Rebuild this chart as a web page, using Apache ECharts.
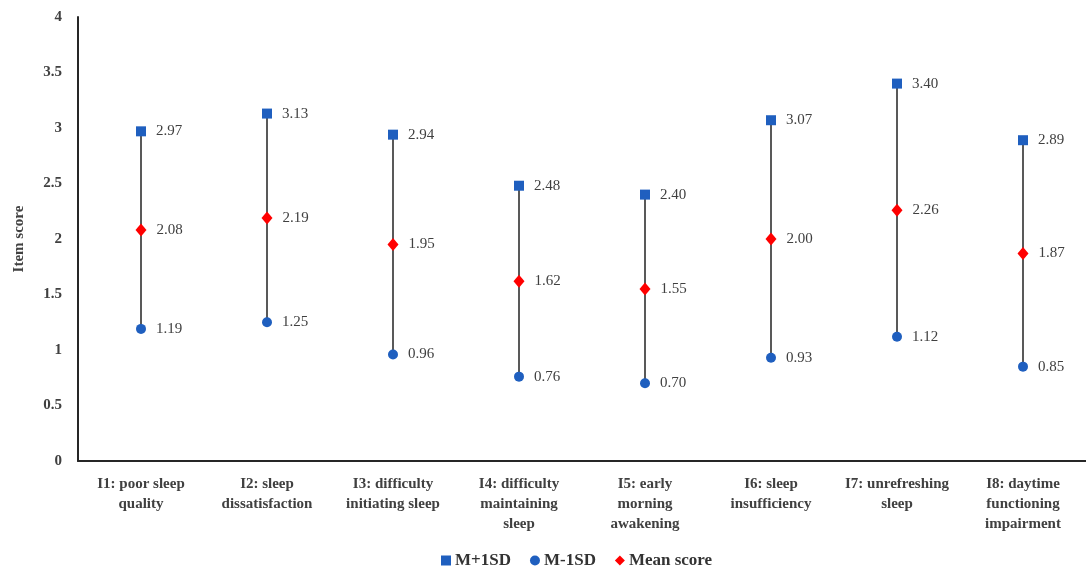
<!DOCTYPE html>
<html><head><meta charset="utf-8">
<script src="https://cdn.jsdelivr.net/npm/echarts@6/dist/echarts.min.js"></script>
<style>html,body{margin:0;padding:0;background:#fff}#c{width:1086px;height:568px}</style>
</head><body><div id="c"></div>
<script>
const categories = ["I1: poor sleep\nquality","I2: sleep\ndissatisfaction","I3: difficulty\ninitiating sleep","I4: difficulty\nmaintaining\nsleep","I5: early\nmorning\nawakening","I6: sleep\ninsufficiency","I7: unrefreshing\nsleep","I8: daytime\nfunctioning\nimpairment"];
const upper = [2.97,3.13,2.94,2.48,2.40,3.07,3.40,2.89];
const lower = [1.19,1.25,0.96,0.76,0.70,0.93,1.12,0.85];
const mean = [2.08,2.19,1.95,1.62,1.55,2.00,2.26,1.87];
const yTicks = [0,0.5,1,1.5,2,2.5,3,3.5,4];

const font = "'Liberation Serif','Times New Roman',serif";
const chart = echarts.init(document.getElementById('c'));
const lbl = {show:true, position:'right', distance:10, fontFamily:font, fontSize:15, color:'#404040', formatter:p=>p.value.toFixed(2)};
chart.setOption({
  animation:false,
  textStyle:{fontFamily:font},
  grid:{left:78, right:-10, top:17, bottom:107, containLabel:false},
  legend:{top:547, left:436, itemGap:19, itemWidth:10, itemHeight:10,
    textStyle:{fontFamily:font, fontSize:17, fontWeight:'bold', color:'#333333', padding:[0,0,0,-1]},
    data:['M+1SD','M-1SD','Mean score']},
  xAxis:{type:'category', data:categories,
    axisLine:{lineStyle:{color:'#262626', width:2}}, axisTick:{show:false},
    axisLabel:{interval:0, fontFamily:font, fontSize:15, fontWeight:'bold', color:'#404040', lineHeight:20, margin:13}},
  yAxis:{type:'value', min:0, max:4, interval:0.5, name:'Item score', nameLocation:'middle', nameGap:51,
    nameTextStyle:{fontFamily:font, fontSize:15, fontWeight:'bold', color:'#404040'},
    axisLine:{show:true, lineStyle:{color:'#262626', width:2}}, axisTick:{show:false}, splitLine:{show:false},
    axisLabel:{fontFamily:font, fontSize:15, fontWeight:'bold', color:'#404040', margin:16,
      formatter:v=>yTicks.includes(v)?String(v):''}},
  series:[
    {type:'custom', name:'range', silent:true, z:1,
      renderItem:(params, api)=>{
        const i = api.value(0);
        const a = api.coord([i, api.value(1)]);
        const b = api.coord([i, api.value(2)]);
        return {type:'line', shape:{x1:a[0],y1:a[1],x2:b[0],y2:b[1]}, style:{stroke:'#595959', lineWidth:2}};
      },
      encode:{x:0, y:[1,2]},
      data:categories.map((c,i)=>[i, lower[i], upper[i]])},
    {type:'scatter', name:'M+1SD', symbol:'rect', symbolSize:10, itemStyle:{color:'#1F5FBF', opacity:1}, data:upper, label:lbl, z:3},
    {type:'scatter', name:'M-1SD', symbol:'circle', symbolSize:10, itemStyle:{color:'#1F5FBF', opacity:1}, data:lower, label:lbl, z:3},
    {type:'scatter', name:'Mean score', symbol:'diamond', symbolSize:[11,13], itemStyle:{color:'#FF0000', opacity:1}, data:mean, label:lbl, z:3}
  ]
});
</script></body></html>
